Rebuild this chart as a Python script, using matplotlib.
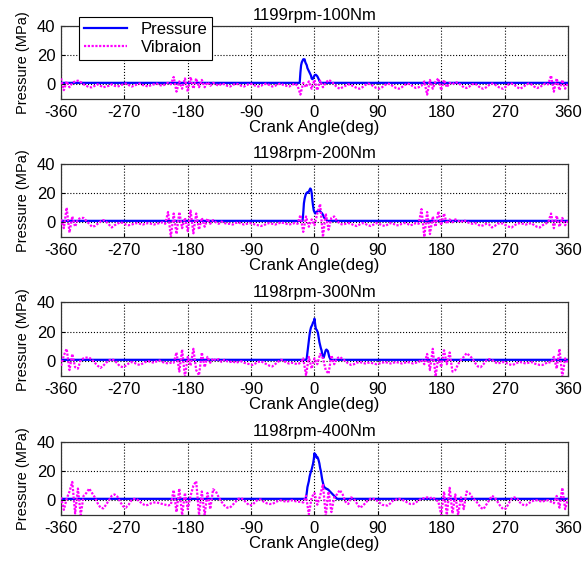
import numpy as np
import matplotlib
matplotlib.use("Agg")
import matplotlib.pyplot as plt

plt.rcParams['font.family'] = ['Liberation Sans', 'DejaVu Sans']
plt.rcParams['axes.unicode_minus'] = False

# 曲轴转角网格 (振动信号每 4 度读一个点)
crank_angle = np.arange(-360, 361, 4)

titles = ["1199rpm-100Nm", "1198rpm-200Nm", "1198rpm-300Nm", "1198rpm-400Nm"]

# 缸压曲线 (角度, MPa)
p_ang_100 = [-360, -21, -20, -19, -18, -17, -16, -15, -14, -13, -12, -11, -10, -9, -8, -7, -6, -5,
             -4, -3, -2, -1, 0, 1, 2, 3, 4, 5, 6, 7, 8, 9, 360]
p_100 = [1, 1, 8, 13, 15, 16, 17, 16.5, 17, 15, 14, 13, 11, 10, 9, 8, 7, 6,
         4, 3.5, 4, 5, 6, 6.5, 6.5, 6, 5.5, 4.5, 3.5, 2.5, 1.5, 1, 1]

p_ang_200 = [-360, -17, -16, -15, -14, -13, -12, -11, -10, -9, -8, -7, -6, -5, -4, -3, -2, -1,
             0, 1, 2, 3, 4, 5, 6, 7, 8, 9, 10, 11, 12, 13, 14, 15, 16, 17, 18, 360]
p_200 = [1, 1, 6, 13, 16, 18, 19.5, 20, 20.5, 20, 21, 22, 23, 22.5, 20, 15, 11, 8,
         7, 6, 6.5, 7, 7.5, 8, 8, 8, 7.5, 7, 6.5, 6, 5, 4, 3, 2.5, 2, 1.5, 1, 1]

p_ang_300 = [-360, -12, -11, -10, -9, -8, -7, -6, -5, -4, -3, -2, -1, 0, 1, 2, 3, 4, 5, 6, 7,
             8, 9, 10, 11, 12, 13, 14, 15, 16, 17, 18, 19, 20, 21, 22, 23, 360]
p_300 = [1, 1, 2, 6, 10, 14, 18, 21, 23, 24, 25, 26.5, 27, 29, 25, 22, 21.5, 20.5, 19, 16, 13,
         11, 9, 7.5, 5, 3, 2.5, 4, 6, 7.5, 8, 7.5, 7, 5, 3, 2, 1, 1]

p_ang_400 = [-360, -13, -12, -11, -10, -9, -8, -7, -6, -5, -4, -3, -2, -1, 0, 1, 2, 3, 4, 5, 6,
             7, 8, 9, 10, 11, 12, 13, 14, 15, 16, 17, 18, 19, 20, 21, 22, 23, 24, 25, 26, 27,
             28, 29, 30, 31, 32, 360]
p_400 = [1, 1, 2, 5, 9, 11, 13, 16, 18, 19.5, 21, 23, 25, 28, 32, 30, 31, 29, 29.5, 28.5, 27,
         25, 22, 20, 17, 14, 12, 10, 9, 8.5, 8, 8, 7.5, 7.5, 7, 6.5, 6, 5.5, 5, 4.5, 4, 3.5,
         3, 2.5, 2, 1.5, 1, 1]

# 振动信号 (每行 40 度)
v_100 = [4, -4, 2, -2, 1, 2, 2.5, 1.5, 0, -1,                # -360
         -2, -2, -1, 0, -1, -2, -1.5, -1, 0, -1,             # -320
         -1.5, -1, 0, 0.5, -0.5, -1.5, -1, 0, 0.5, -0.5,     # -280
         -1, -1.5, -0.5, 0, 0.5, -0.5, -1, 0, 1, 0,          # -240
         5, -5, 2, -3, 4, -5, 5, -3, 4, -2,                  # -200
         3, -2, 1.5, -1, 1, 0, -1, 0.5, 0, -1,               # -160
         -1.5, -0.5, 0.5, 0, -1, -1.5, -0.5, 0.5, 0, -1,     # -120
         -1.5, -1, 0, 0.5, -0.5, -1.5, -1, 0, 0.5, -0.5,     # -80
         -1, -1.5, -0.5, 0.5, -1, -7, 1, -2, 2, -3,          # -40
         3, -4, 2.5, -2, 1, 3, 2, 0, -2, -3,                 # 0
         -2, -1, 0, -0.5, -1.5, -2.5, -3, -2, -0.5, 0.5,     # 40
         0, -1.5, -2.5, -3, -2, -0.5, 0.5, 0, -1.5, -2.5,    # 80
         -3, -2, -0.5, 0.5, 0, -1.5, -2.5, -2, -1, 2,        # 120
         -7, 3, -3, 2, 4, -4, 3, -2, 1, 0,                   # 160
         1.5, 1, -0.5, -2, -2.5, -1.5, 0, 0.5, -1, -2.5,     # 200
         -3, -2, -0.5, 0.5, 0, -1.5, -2.5, -3, -1.5, 0,      # 240
         0.5, -0.5, -2, -3, -2, -0.5, 0.5, 0, -1.5, -2.5,    # 280
         -2, -0.5, 0.5, 0, 6, -5, 4, -4, 3, -3,              # 320
         1]

v_200 = [2, -4, 10, -7, 4, -3, 2, 3, 3, 1,                   # -360
         -1, -3, -2.5, -1, 0.5, 1.5, 0.5, -1.5, -3.5, -2,    # -320
         -1, 0, -0.5, -1.5, -2, -1.5, -1, -0.5, -1, -1.5,    # -280
         -1, -0.5, -1, -1.5, -1, -0.5, 0, -1, 7, -10,        # -240
         6, -8, 7, -4, 3, -6, 8, -7.5, 6, -5,                # -200
         3, -3, 2.5, -1, 1.5, 0, -1, 0.5, -0.5, -1,          # -160
         -1, -1.5, -0.5, 0, -1, -1.5, -1, -0.5, -1, -1.5,    # -120
         -2, -2.5, -2, -1, -0.5, -1, -1.5, -1, 0, -0.5,      # -80
         -1, -1.5, -1, -0.5, -1, 5, -6.5, 4, -3, 2,          # -40
         -2, 6, 12.5, -10, 6, -5, 3, 4, 1, -1,               # 0
         -1.5, -1, -0.5, -1, -2, -2.5, -1.5, -0.5, -1, -2,   # 40
         -2.5, -1.5, -0.5, -1, -2, -2.5, -1.5, -0.5, -1, -2, # 80
         -2, -1, -0.5, -1, -2, -1.5, -0.5, -1, 9, -10,       # 120
         7, -8, 4, -3, 7.5, -2, 6, -1, 2, 0,                 # 160
         2, 1, 0, 1.5, 0.5, -0.5, -1, -0.5, -1.5, -2.5,      # 200
         -2, -1, -1.5, -3.5, -2.5, -1, -0.5, -1, -2, -3,     # 240
         -3.5, -2, -1, -0.5, -1, -1.5, -1, -0.5, -2, -3,     # 280
         -3.5, -2, -1, 0, 6, -4, 4.5, -3, 3, -2,             # 320
         1]

v_300 = [-3, 4, 8.5, -6, 5, -4, -5, 1, 2, 2.5,               # -360
         2.5, 1, -1, -3, -4.5, -3, -1, 0.5, 1.5, 0.5,        # -320
         -1.5, -3.5, -4, -3, -1.5, -0.5, -1, -2, -2.5, -1.5, # -280
         -0.5, 0, -0.5, -1, 0, 0.5, -0.5, -1, -1.5, -1,      # -240
         -1, 6, -7, 8, -10.5, 3, -3, 8.5, -6, -9.5,          # -200
         6, -4, 3, -1, 2, 0.5, 1.5, -0.5, 1, 0,              # -160
         -0.5, 0, -1, -0.5, 0, -1, -1.5, -2, -2.5, -1.5,     # -120
         -0.5, 0, -1, -2, -3, -3.5, -2, -0.5, 1, 0.5,        # -80
         -1, -1.5, -1, -1.5, -2, -1, 2, -9.5, 3, -5,         # -40
         2, -2, 5, 2, -6, -8.5, 4, -2, 2, 3,                 # 0
         1.5, 0, -1.5, -2.5, -2, -1, -0.5, -1, -1.5, -1,     # 40
         -1, -1.5, -2, -1.5, -1, -0.5, -1, -1.5, -1, -0.5,   # 80
         -1, -1.5, -1, -0.5, -1, -1.5, -1, -0.5, 1, -2,      # 120
         5, -6, 8.5, -10.5, 3, -4, 7.5, -2, 6, -7,           # 160
         -6, -2, 1, 3, 5.5, 4, 2, -1, -3.5, -4,              # 200
         -2, 0.5, 1.5, 1, -0.5, -1.5, -1, -0.5, -1, -2,      # 240
         -2.5, -2, -1, -0.5, -1, -1.5, -1, -0.5, -1.5, -2,   # 280
         -2.5, -2.5, -1.5, -0.5, -1, 3, -5, 8.5, -10.5, 2,   # 320
         -1]

v_400 = [2, -6.5, 1, 6, 12.5, -9, 8, -10, 3, 5,              # -360
         8, 5, 2, -2, -5, -5.5, -3, 0, 3, 4,                 # -320
         2.5, -1, -4, -5, -3, 0, 1, 0.5, -1, -2.5,           # -280
         -3.5, -3, -2, -1.5, -1.5, -2, -2.5, -3, -3.5, -3,   # -240
         7, -8, 8, -10, 5, -6, 3, 10, 13, -10,               # -200
         6, -10, 5, -6, 7.5, 6, 2, -1, -3.5, -5,             # -160
         -5, -3, -1, 1, 1.5, 0, -2, -3.5, -3, -1,            # -120
         0.5, 0.5, -1, -2, -2.5, -2.5, -1.5, -0.5, 0, -0.5,  # -80
         -1, -0.5, 0, -0.5, -1, -1, -1.5, 3, -9.5, 2,        # -40
         5, -3, 3, 11, -10.5, 6, -8, 2, 4, 7,                # 0
         4, -1, -2.5, 2, 1, -2, -5, -4, -2, 0,               # 40
         1, 1, 0, -1.5, -3, -3.5, -3.5, -2, 0, 0.5,          # 80
         1, 0.5, -0.5, -1.5, -2.5, -2.5, -1.5, 0, 1, 1.5,    # 120
         2, 1.5, 2, 0.5, -1, -10, 6, -10, 8.5, -9,           # 160
         4, -10, 2, -6, 6, 5, 2, 0, -2, -5,                  # 200
         -6, -3, 0, 3, 2, -1, -4, -6, -5.5, -2,              # 240
         1, 2, 1, -1.5, -3, -3.5, -2, -1, 0, 0,              # 280
         -0.5, -1, 0, 0, -1, -2, 3, -5, 8.5, -6,             # 320
         1]

pressure_sets = [(p_ang_100, p_100), (p_ang_200, p_200), (p_ang_300, p_300), (p_ang_400, p_400)]
vibration_sets = [v_100, v_200, v_300, v_400]

fig = plt.figure(figsize=(5.84, 5.61), dpi=100)

# 各子图位置 (按参考图像素量出)
bottoms = [0.8235, 0.5775, 0.3298, 0.082]
for i in range(4):
    ax = fig.add_axes([0.1045, bottoms[i], 0.868, 0.131])
    p_ang, p_val = pressure_sets[i]
    ax.plot(p_ang, p_val, color='#0000ff', lw=1.6, label='Pressure', zorder=3)
    ax.plot(crank_angle, vibration_sets[i], color='#ff00ff', ls=(0, (1, 0.7)), lw=1.6,
            label='Vibraion', zorder=4)
    ax.set_xlim(-360, 360)
    ax.set_ylim(-10, 40)
    ax.set_xticks(np.arange(-360, 361, 90))
    ax.set_yticks([0, 20, 40])
    ax.grid(True, color='black', ls=':', lw=0.8)
    ax.set_axisbelow(True)
    ax.tick_params(direction='in', length=3, labelsize=12, pad=4)
    for s in ax.spines.values():
        s.set_color('#333333')
        s.set_linewidth(0.9)
    ax.set_title(titles[i], fontsize=12, pad=4)
    ax.set_xlabel("Crank Angle(deg)", fontsize=12, labelpad=0)
    ax.set_ylabel("Pressure (MPa)", fontsize=10.5, labelpad=5)
    if i == 0:
        leg = ax.legend(loc='upper left', bbox_to_anchor=(0.035, 1.12), borderaxespad=0,
                        fontsize=12, fancybox=False, framealpha=1, edgecolor='black',
                        handlelength=2.6, borderpad=0.3, labelspacing=0.2)
        leg.get_frame().set_linewidth(0.8)
        leg.set_zorder(10)

plt.savefig("out.png", dpi=100)
